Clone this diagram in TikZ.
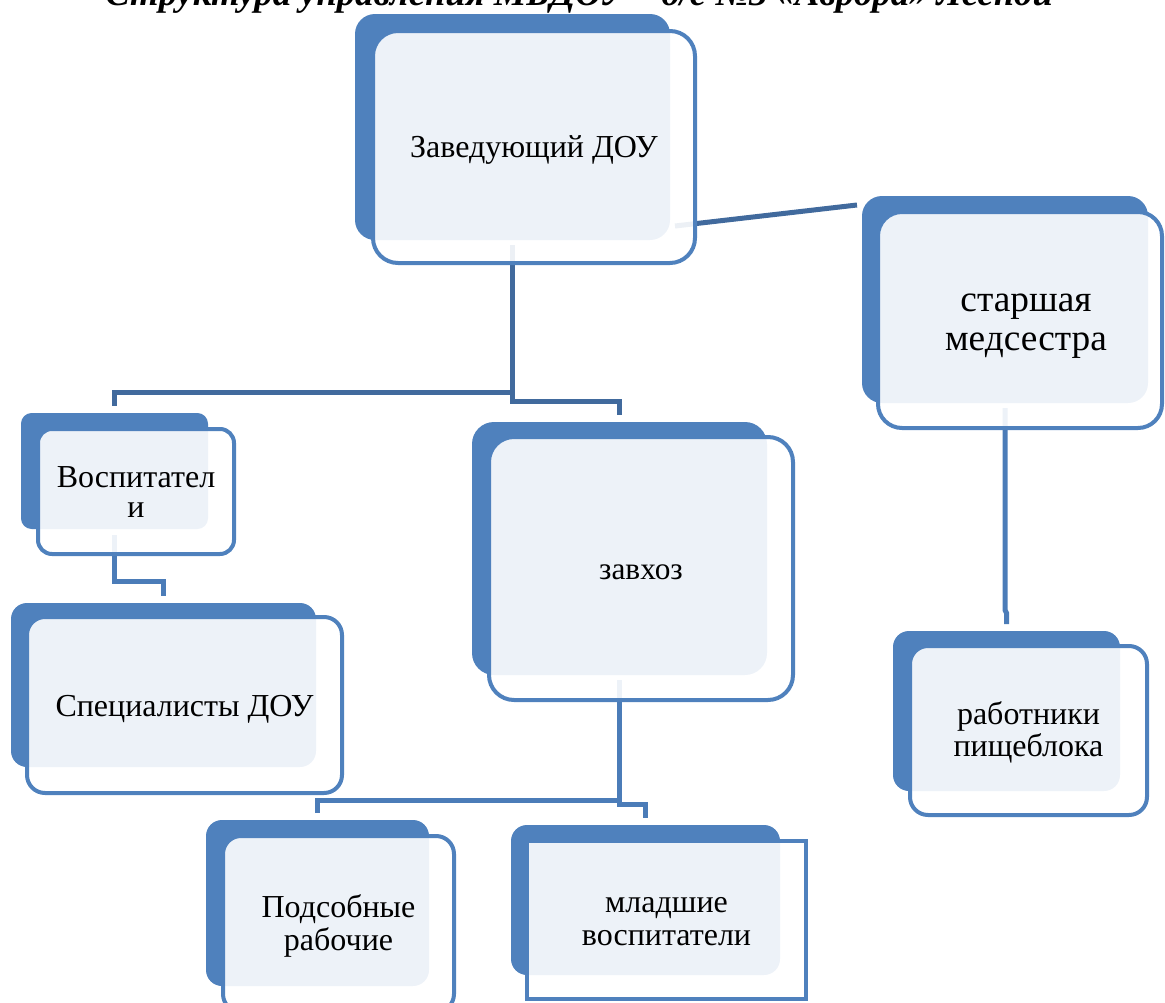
\documentclass[tikz,border=0pt]{standalone}
\usepackage{fontspec}
\setmainfont{Liberation Serif}
\pgfdeclarelayer{bg}
\pgfsetlayers{bg,main}
\definecolor{accent}{RGB}{79,129,189}
\definecolor{connA}{RGB}{65,106,157}
\definecolor{connB}{RGB}{75,124,184}
\newcommand\fsz[2]{\fontsize{#1}{#2}\selectfont}
\tikzset{
  backbox/.style={draw=none, fill=accent, inner sep=0pt, outer sep=0pt},
  frontbox/.style={draw=accent, line width=3pt, fill=white, fill opacity=0.9,
    draw opacity=1, inner sep=0pt, outer sep=0pt},
  txt/.style={inner sep=0pt, align=center, text=black},
  connline/.style={line width=3.75pt, line join=miter, line cap=butt},
}
\begin{document}
\begin{tikzpicture}[x=0.75pt,y=-0.75pt]
\useasboundingbox (0,0) rectangle (1165,1003);
\clip (0,0) rectangle (1165,1003);

% title (clipped at the top edge)
\node[anchor=base west, inner sep=0pt, font=\bfseries\itshape\fsz{27.5}{30}] (title) at (105,6)
  {Структура управления МБДОУ – д/с №3 «Аврора» Лесной};

% Заведующий ДОУ
\node[backbox, rounded corners=15pt, minimum width=236.25pt, minimum height=169.5pt] (zavB) at (512.5,127) {};
\node[frontbox, rounded corners=18.75pt, minimum width=241.5pt, minimum height=174pt] (zavF) at (534,147) {};
\node[txt, font=\fsz{24}{28}] (zavT) at ([yshift=-2.25pt]zavF.center) {Заведующий ДОУ};

% старшая медсестра
\node[backbox, rounded corners=15pt, minimum width=214.5pt, minimum height=155.25pt] (starB) at (1005,299.5) {};
\node[frontbox, rounded corners=18pt, minimum width=213pt, minimum height=162pt] (starF) at (1020,320) {};
\node[txt, font=\fsz{28}{29.5}] (starT) at ([shift={(6,6)}]starF.center) {старшая\\медсестра};

% Воспитатели
\node[backbox, rounded corners=8pt, minimum width=140.25pt, minimum height=87pt] (vospB) at (114.5,471) {};
\node[frontbox, rounded corners=10.5pt, minimum width=147pt, minimum height=93.75pt] (vospF) at (136,491.5) {};
\node[txt, font=\fsz{24}{22.5}] (vospT) at ([yshift=-0.5pt]vospF.center) {Воспитател\\и};

% Специалисты ДОУ
\node[backbox, rounded corners=12pt, minimum width=228.75pt, minimum height=123pt] (specB) at (163.5,685) {};
\node[frontbox, rounded corners=13.5pt, minimum width=236.25pt, minimum height=132pt] (specF) at (184.5,705) {};
\node[txt, font=\fsz{24}{28}] (specT) at ([yshift=-3pt]specF.center) {Специалисты ДОУ};

% завхоз
\node[backbox, rounded corners=16.5pt, minimum width=221.25pt, minimum height=189.75pt] (zavhB) at (619.5,548.5) {};
\node[frontbox, rounded corners=18.75pt, minimum width=228pt, minimum height=197.25pt] (zavhF) at (641,568.5) {};
\node[txt, font=\fsz{23.5}{28}] (zavhT) at ([yshift=-3pt]zavhF.center) {завхоз};

% Подсобные рабочие
\node[backbox, rounded corners=12pt, minimum width=167.25pt, minimum height=124.5pt] (podB) at (317.5,903) {};
\node[frontbox, rounded corners=13.5pt, minimum width=173.25pt, minimum height=132pt] (podF) at (338.5,924) {};
\node[txt, font=\fsz{24}{24.75}] (podT) at ([yshift=-1.5pt]podF.center) {Подсобные\\рабочие};

% младшие воспитатели
\node[backbox, rounded corners=12pt, minimum width=201.75pt, minimum height=112.5pt] (mladB) at (645.5,900) {};
\node[frontbox, sharp corners, minimum width=209.25pt, minimum height=118.5pt] (mladF) at (666.5,920) {};
\node[txt, font=\fsz{24}{24.75}] (mladT) at ([yshift=-1.5pt]mladF.center) {младшие\\воспитатели};

% работники пищеблока
\node[backbox, rounded corners=12pt, minimum width=170.25pt, minimum height=120pt] (rabB) at (1006.5,711) {};
\node[frontbox, rounded corners=13.5pt, minimum width=177.75pt, minimum height=126.75pt] (rabF) at (1028.5,730.5) {};
\node[txt, font=\fsz{24}{24}] (rabT) at ([yshift=-1.5pt]rabF.center) {работники\\пищеблока};

% connectors (behind the boxes)
\begin{pgfonlayer}{bg}
\draw[connline, connA] ([yshift=-3.75pt]zavB.south) |- (vospB.north |- 0,392) -- ([yshift=5.25pt]vospB.north);
\draw[connline, connA] (zavB.south |- 0,392) -- (zavB.south |- 0,401) -| ([yshift=5.25pt]zavhB.north);
\draw[connline, connA] ([shift={(5,-14)}]zavB.south east) -- ([shift={(-5,9)}]starB.north west);
\draw[connline, connB] ([yshift=-3.75pt]starB.south) -- (starB.south |- 0,610) -- (rabB.north |- 0,613) -- ([yshift=5.25pt]rabB.north);
\draw[connline, connB] ([yshift=-4.5pt]vospB.south) |- (specB.north |- 0,581) -- ([yshift=5.25pt]specB.north);
\draw[connline, connB] ([yshift=-3.75pt]zavhB.south) |- (podB.north |- 0,800) -- ([yshift=5.25pt]podB.north);
\draw[connline, connB] (zavhB.south |- 0,800) -- (zavhB.south |- 0,804) -| ([yshift=5.25pt]mladB.north);
\end{pgfonlayer}
\end{tikzpicture}
\end{document}
